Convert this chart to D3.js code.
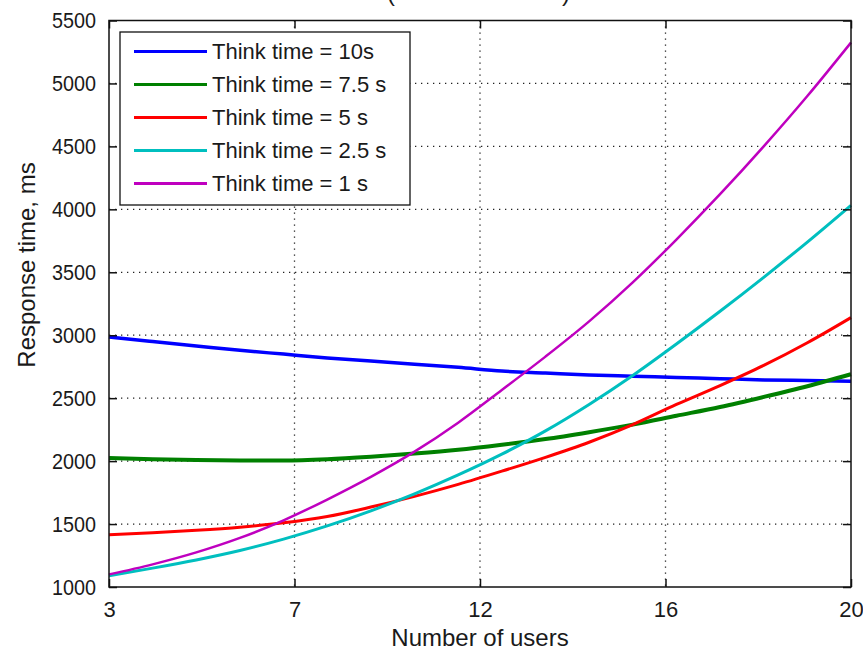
<!DOCTYPE html>
<html><head><meta charset="utf-8">
<script src="https://cdn.jsdelivr.net/npm/d3@7"></script>
<style>
html,body{margin:0;padding:0;background:#fff;}
svg{display:block;}
text{font-family:"Liberation Sans",Arial,Helvetica,sans-serif;fill:#1a1a1a;}
</style></head>
<body>
<svg id="chart" width="863" height="654"></svg>
<script>
// ---- data ----
const users = [3,4,5,6,7,8,9,10,11,12,13,14,15,16,17,18,19,20];
const think10  = [2985,2950,2915,2880,2850,2820,2795,2770,2745,2715,2700,2685,2675,2665,2655,2645,2640,2635];
const think75  = [2025,2015,2008,2005,2005,2015,2035,2060,2090,2130,2175,2230,2290,2360,2430,2510,2595,2690];
const think5   = [1415,1430,1450,1475,1510,1560,1635,1720,1815,1920,2030,2150,2290,2450,2600,2760,2940,3140];
const think25  = [1090,1150,1215,1290,1380,1485,1605,1740,1890,2055,2240,2450,2680,2930,3190,3460,3740,4032];
const think1   = [1100,1180,1275,1390,1530,1695,1875,2075,2305,2565,2830,3110,3420,3760,4120,4500,4900,5325];
const seriesNames = ["Think time = 10s","Think time = 7.5 s","Think time = 5 s","Think time = 2.5 s","Think time = 1 s"];
const seriesColors = ["#0000ff","#008000","#ff0000","#00bfbf","#bf00bf"];
const seriesWidths = [3.5,4,3,3,2.5];
const xTickValues = [3,7.25,11.5,15.75,20];
const xTickLabels = ["3","7","12","16","20"];
const yTickValues = [1000,1500,2000,2500,3000,3500,4000,4500,5000,5500];
const xLabel = "Number of users";
const yLabel = "Response time, ms";

const allSeries = [think10,think75,think5,think25,think1];

// ---- layout ----
const L = 109, R = 851, T = 20.5, B = 587;
const svg = d3.select("#chart");
const x = d3.scaleLinear().domain([3,20]).range([L,R]);
const y = d3.scaleLinear().domain([1000,5500]).range([B,T]);

// grid
const grid = svg.append("g");
grid.selectAll("line.gx").data(xTickValues.slice(1,-1)).join("line")
  .attr("x1",d=>x(d)).attr("x2",d=>x(d)).attr("y1",T).attr("y2",B)
  .attr("stroke","#222").attr("stroke-width",1.3).attr("stroke-dasharray","1.3 4.7");
grid.selectAll("line.gy").data(yTickValues.slice(1,-1)).join("line")
  .attr("x1",L).attr("x2",R).attr("y1",d=>y(d)).attr("y2",d=>y(d))
  .attr("stroke","#222").attr("stroke-width",1.3).attr("stroke-dasharray","1.3 4.7");

// lines
const line = d3.line().x((d,i)=>x(users[i])).y(d=>y(d)).curve(d3.curveMonotoneX);
svg.append("g").selectAll("path").data(allSeries).join("path")
  .attr("d",d=>line(d)).attr("fill","none")
  .attr("stroke",(d,i)=>seriesColors[i]).attr("stroke-width",(d,i)=>seriesWidths[i]);

// axes (inside ticks, on all four sides)
const tickLen = 8;
const axB = d3.axisBottom(x).tickValues(xTickValues).tickFormat((d,i)=>xTickLabels[i]).tickSizeInner(-tickLen).tickSizeOuter(0).tickPadding(tickLen+6);
const axT = d3.axisTop(x).tickValues(xTickValues).tickFormat("").tickSizeInner(-tickLen).tickSizeOuter(0);
const axL = d3.axisLeft(y).tickValues(yTickValues).tickFormat(d3.format("d")).tickSizeInner(-tickLen).tickSizeOuter(0).tickPadding(tickLen+5);
const axR = d3.axisRight(y).tickValues(yTickValues).tickFormat("").tickSizeInner(-tickLen).tickSizeOuter(0);

function styleAxis(g){
  g.select(".domain").remove();
  g.selectAll(".tick line").attr("stroke","#111").attr("stroke-width",1.5);
  g.selectAll(".tick text").attr("font-size",22).attr("fill","#1a1a1a")
    .attr("font-family","'Liberation Sans',Arial,sans-serif");
}
svg.append("g").attr("transform",`translate(0,${B})`).call(axB).call(styleAxis)
  .selectAll(".tick text").attr("dy","0.71em");
svg.append("g").attr("transform",`translate(0,${T})`).call(axT).call(styleAxis);
svg.append("g").attr("transform",`translate(${L},0)`).call(axL).call(styleAxis)
  .selectAll(".tick text").attr("transform","scale(0.9,1)").attr("x",-(tickLen+5)/0.9);
svg.append("g").attr("transform",`translate(${R},0)`).call(axR).call(styleAxis);

// box
svg.append("rect").attr("x",L).attr("y",T).attr("width",R-L).attr("height",B-T)
  .attr("fill","none").attr("stroke","#111").attr("stroke-width",1.5);

// axis labels
svg.append("text").attr("x",(L+R)/2).attr("y",646).attr("text-anchor","middle")
  .attr("font-size",24).text(xLabel);
svg.append("text").attr("transform","translate(35,265) rotate(-90)").attr("text-anchor","middle")
  .attr("font-size",24).text(yLabel);

// title fragments (cut off at the top edge, as in the reference)
svg.append("text").attr("x",391).attr("y",1).attr("text-anchor","middle").attr("font-size",24).text("(");
svg.append("text").attr("x",566).attr("y",1).attr("text-anchor","middle").attr("font-size",24).text(")");

// legend
const lg = svg.append("g");
lg.append("rect").attr("x",120).attr("y",32).attr("width",290).attr("height",173)
  .attr("fill","#fff").attr("stroke","#111").attr("stroke-width",1.3);
const rows = lg.selectAll("g.row").data(seriesNames).join("g")
  .attr("transform",(d,i)=>`translate(0,${51.5+i*33})`);
rows.append("line").attr("x1",134).attr("x2",207).attr("y1",0).attr("y2",0)
  .attr("stroke",(d,i)=>seriesColors[i]).attr("stroke-width",3);
rows.append("text").attr("x",212).attr("y",0).attr("dy","0.35em").attr("font-size",22).text(d=>d);
</script>
</body></html>
